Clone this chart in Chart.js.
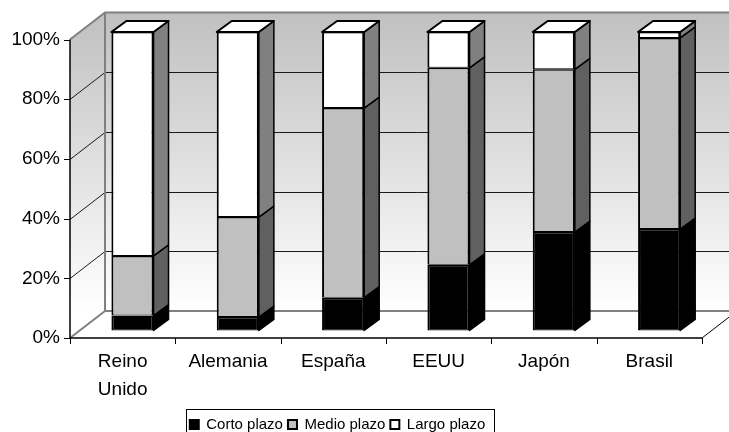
<!DOCTYPE html>
<html>
<head>
<meta charset="utf-8">
<script src="https://cdn.jsdelivr.net/npm/chart.js@4"></script>
<style>
  html, body { margin: 0; padding: 0; background: #fff; }
</style>
</head>
<body>
<canvas id="chart" width="729" height="432"></canvas>
<script>
// Data (percent of total)
const categories = [['Reino', 'Unido'], 'Alemania', 'España', 'EEUU', 'Japón', 'Brasil'];
const seriesNames = ['Corto plazo', 'Medio plazo', 'Largo plazo'];
const cortoPlazo = [5, 4.5, 11, 22, 33, 34];
const medioPlazo = [20, 33.5, 63.5, 66, 54.5, 64];
const largoPlazo = [75, 62, 25.5, 12, 12.5, 2];
const yTicks = [0, 20, 40, 60, 80, 100];

// Look of the fake 3D
const frontColors = ['#000000', '#c0c0c0', '#ffffff'];
const sideColors = ['#000000', '#606060', '#808080'];
const depth = { x: 35, y: -27 };      // front plane -> back wall
const barShift = { x: 9.8, y: -7.5 }; // front plane -> bar front face
const barDepth = { x: 15, y: -11 };   // bar thickness
const fontFamily = "'Liberation Sans', Arial, sans-serif";

function poly(ctx, pts) {
  ctx.beginPath();
  ctx.moveTo(pts[0][0], pts[0][1]);
  for (let i = 1; i < pts.length; i++) ctx.lineTo(pts[i][0], pts[i][1]);
  ctx.closePath();
}

function line(ctx, pts, color, width) {
  ctx.beginPath();
  ctx.moveTo(pts[0][0], pts[0][1]);
  for (let i = 1; i < pts.length; i++) ctx.lineTo(pts[i][0], pts[i][1]);
  ctx.strokeStyle = color;
  ctx.lineWidth = width;
  ctx.stroke();
}

const box3d = {
  id: 'box3d',
  afterLayout(chart) {
    // move the legend a bit left and down, like the original
    const lg = chart.legend;
    lg.right = 675;
    lg.top += 10;
    lg.bottom += 10;
  },
  beforeDatasetsDraw(chart) {
    const { ctx, chartArea: a, scales: { y } } = chart;
    const bx = a.left + depth.x, by = a.top + depth.y;
    const br = a.right + depth.x, bb = a.bottom + depth.y;
    ctx.save();
    const grad = ctx.createLinearGradient(0, by, 0, bb);
    grad.addColorStop(0, '#c0c0c0');
    grad.addColorStop(1, '#ffffff');
    ctx.fillStyle = grad;
    ctx.fillRect(bx, by, br - bx, bb - by);
    const grad2 = ctx.createLinearGradient(0, by, 0, bb);
    grad2.addColorStop(0, '#c0c0c0');
    grad2.addColorStop(1, '#ffffff');
    poly(ctx, [[a.left, a.top], [bx, by], [bx, bb], [a.left, a.bottom]]);
    ctx.fillStyle = grad2;
    ctx.fill();
    poly(ctx, [[a.left, a.bottom], [bx, bb], [br, bb], [a.right, a.bottom]]);
    ctx.fillStyle = '#ffffff';
    ctx.fill();

    yTicks.forEach(v => {
      if (v === 0 || v === 100) return;
      const yy = Math.round(y.getPixelForValue(v)) + 0.5;
      line(ctx, [[a.left, yy], [bx, yy + depth.y], [br, yy + depth.y]], '#1a1a1a', 1);
    });

    line(ctx, [[a.left, a.top], [bx, by], [br, by]], '#808080', 2);
    line(ctx, [[bx, by], [bx, bb], [br, bb]], '#808080', 2);
    line(ctx, [[a.left, a.bottom], [bx, bb]], '#808080', 2);
    ctx.restore();
  },
  beforeDatasetDraw(chart) {
    chart.ctx.save();
    chart.ctx.translate(barShift.x, barShift.y);
  },
  afterDatasetDraw(chart) {
    chart.ctx.restore();
  },
  afterDatasetsDraw(chart) {
    const { ctx, chartArea: a, scales: { x, y } } = chart;
    ctx.save();
    ctx.translate(barShift.x, barShift.y);
    ctx.lineJoin = 'round';
    const n = chart.data.labels.length;
    const sets = chart.data.datasets.length;
    for (let i = 0; i < n; i++) {
      let topEl = null, topSet = -1;
      for (let d = 0; d < sets; d++) {
        const el = chart.getDatasetMeta(d).data[i];
        if (!el || chart.data.datasets[d].data[i] <= 0) continue;
        const r = el.x + el.width / 2;
        poly(ctx, [[r, el.y], [r + barDepth.x, el.y + barDepth.y],
                   [r + barDepth.x, el.base + barDepth.y], [r, el.base]]);
        ctx.fillStyle = sideColors[d];
        ctx.fill();
        ctx.strokeStyle = '#000';
        ctx.lineWidth = 1.5;
        ctx.stroke();
        topEl = el; topSet = d;
      }
      if (topEl) {
        const l = topEl.x - topEl.width / 2, r = topEl.x + topEl.width / 2;
        poly(ctx, [[l, topEl.y], [l + barDepth.x, topEl.y + barDepth.y],
                   [r + barDepth.x, topEl.y + barDepth.y], [r, topEl.y]]);
        ctx.fillStyle = frontColors[topSet];
        ctx.fill();
        ctx.strokeStyle = '#000';
        ctx.lineWidth = 2;
        ctx.stroke();
      }
    }
    ctx.restore();

    // front axes
    ctx.save();
    line(ctx, [[a.left, a.top], [a.left, a.bottom]], '#000', 1.5);
    yTicks.forEach(v => {
      const yy = Math.round(y.getPixelForValue(v)) + 0.5;
      line(ctx, [[a.left - 6, yy], [a.left, yy]], '#000', 1);
    });
    line(ctx, [[a.left, a.bottom], [a.right, a.bottom]], '#000', 1.5);
    const half = (x.getPixelForValue(1) - x.getPixelForValue(0)) / 2;
    for (let i = 0; i <= n; i++) {
      const xx = Math.round(x.getPixelForValue(i) - half) + 0.5;
      line(ctx, [[xx, a.bottom], [xx, a.bottom + 6]], '#000', 1);
    }
    line(ctx, [[a.right, a.bottom], [a.right + depth.x, a.bottom + depth.y]], '#000', 1);
    ctx.restore();
  },
  afterDraw(chart) {
    const hb = chart.legend.legendHitBoxes;
    if (!hb || !hb.length) return;
    const last = hb[hb.length - 1];
    const ctx = chart.ctx;
    ctx.save();
    ctx.strokeStyle = '#000';
    ctx.lineWidth = 1;
    const left = Math.round(hb[0].left - 4) + 0.5;
    const right = Math.round(last.left + last.width + 9) + 0.5;
    const top = Math.round(hb[0].top - 8) + 0.5;
    ctx.strokeRect(left, top, right - left, 440 - top);
    ctx.restore();
  }
};

const seriesData = [cortoPlazo, medioPlazo, largoPlazo];

const chart = new Chart(document.getElementById('chart'), {
  type: 'bar',
  data: {
    labels: categories,
    datasets: seriesNames.map((name, i) => ({
      label: name,
      data: seriesData[i],
      backgroundColor: frontColors[i],
      borderColor: '#000',
      borderWidth: { left: 2, right: 2, top: 1.5, bottom: 1 },
      borderSkipped: false,
      barPercentage: 0.4,
      categoryPercentage: 1,
      clip: false
    }))
  },
  options: {
    responsive: false,
    animation: false,
    events: [],
    layout: { padding: { top: 39.5, right: 27, left: 0, bottom: 0 } },
    plugins: {
      tooltip: { enabled: false },
      legend: {
        position: 'bottom',
        labels: {
          boxWidth: 9,
          boxHeight: 9,
          padding: 5,
          color: '#000',
          font: { family: fontFamily, size: 15 },
          generateLabels(chart) {
            const items = Chart.defaults.plugins.legend.labels.generateLabels(chart);
            items.forEach(it => { it.lineWidth = 2; it.strokeStyle = '#000'; });
            return items;
          }
        }
      }
    },
    scales: {
      x: {
        stacked: true,
        offset: true,
        grid: { display: false, drawTicks: false },
        border: { display: false },
        ticks: {
          color: '#000',
          padding: 10,
          maxRotation: 0,
          autoSkip: false,
          font: { family: fontFamily, size: 19, lineHeight: 1.47 }
        },
        afterFit(scale) { scale.height = 64; }
      },
      y: {
        stacked: true,
        min: 0,
        max: 100,
        afterBuildTicks(scale) { scale.ticks = yTicks.map(v => ({ value: v })); },
        grid: { display: false, drawTicks: false },
        border: { display: false },
        ticks: {
          color: '#000',
          padding: 10,
          callback: v => v + '%',
          font: { family: fontFamily, size: 19 }
        },
        afterFit(scale) { scale.width = 70; }
      }
    }
  },
  plugins: [box3d]
});
</script>
</body>
</html>
